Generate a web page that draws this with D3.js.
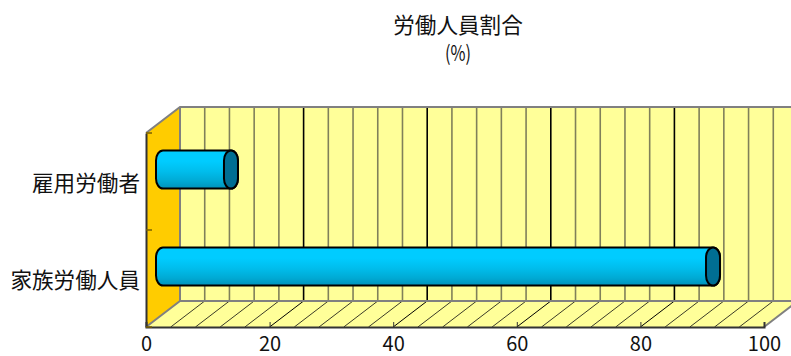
<!DOCTYPE html>
<html>
<head>
<meta charset="utf-8">
<script src="https://cdn.jsdelivr.net/npm/d3@7"></script>
<style>
html,body{margin:0;padding:0;background:#fff;overflow:hidden}
text{font-family:"Noto Sans CJK JP",sans-serif;fill:#111}
</style>
</head>
<body>
<script>
// Share of workers by type, drawn as a pseudo-3D horizontal cylinder chart
const categories = ["雇用労働者", "家族労働人員"];
const shares = [11, 89];
const tickValues = [0, 20, 40, 60, 80, 100];
const gridValues = d3.range(0, 129, 4);
const titleText = "労働人員割合";
const unitText = "(%)";

const W = 791, H = 356;
const depthX = 34, depthY = 26;
const x = d3.scaleLinear().domain([0, 100]).range([146, 764]);
const y = d3.scaleBand().domain(categories).range([133, 327]);
const top3d = y.range()[0], bottom3d = y.range()[1];

const svg = d3.select("body").append("svg")
  .attr("width", W).attr("height", H).style("display", "block");

const grad = svg.append("defs").append("linearGradient")
  .attr("id", "cyl").attr("x1", 0).attr("y1", 0).attr("x2", 0).attr("y2", 1);
[[0, "#00ccff"], [0.28, "#00ccff"], [0.55, "#00bdec"], [0.8, "#00aad4"], [1, "#0092ba"]]
  .forEach(([o, c]) => grad.append("stop").attr("offset", o).attr("stop-color", c));

const poly = pts => d3.line()(pts) + "Z";
const x0 = x(0), xEnd = x(100);

// back wall, clipped by the page edge
svg.append("rect")
  .attr("x", x0 + depthX).attr("y", top3d - depthY)
  .attr("width", xEnd - x0).attr("height", bottom3d - top3d)
  .attr("fill", "#ffff99");

// floor
svg.append("path")
  .attr("d", poly([[x0, bottom3d], [xEnd, bottom3d], [xEnd + depthX, bottom3d - depthY], [x0 + depthX, bottom3d - depthY]]))
  .attr("fill", "#ffff99");

// left wall
svg.append("path")
  .attr("d", poly([[x0, top3d], [x0 + depthX, top3d - depthY], [x0 + depthX, bottom3d - depthY], [x0, bottom3d]]))
  .attr("fill", "#ffcc00");

// wall and floor grid lines
const isMajor = d => d % 20 === 0;
svg.append("g").selectAll("line").data(gridValues.filter(d => d > 0)).join("line")
  .attr("x1", d => x(d) + depthX).attr("x2", d => x(d) + depthX)
  .attr("y1", top3d - depthY).attr("y2", bottom3d - depthY)
  .attr("stroke", d => isMajor(d) ? "#000" : "#80805a")
  .attr("stroke-width", 1.6);

svg.append("g").selectAll("line").data(gridValues.filter(d => d > 0 && d < 100)).join("line")
  .attr("x1", d => x(d)).attr("y1", bottom3d)
  .attr("x2", d => x(d) + depthX).attr("y2", bottom3d - depthY)
  .attr("stroke", d => isMajor(d) ? "#000" : "#3c3c28")
  .attr("stroke-width", 1);

// grey frame of the 3D box
const frame = svg.append("g").attr("fill", "none").attr("stroke", "#808080").attr("stroke-width", 2);
frame.append("path").attr("d", d3.line()([[x0, top3d], [x0 + depthX, top3d - depthY], [W + 10, top3d - depthY]]));
frame.append("path").attr("d", d3.line()([[x0, bottom3d], [x0 + depthX, bottom3d - depthY], [W + 10, bottom3d - depthY]]));
frame.append("path").attr("d", d3.line()([[x0 + depthX, top3d - depthY], [x0 + depthX, bottom3d - depthY]]));
frame.append("path").attr("d", d3.line()([[xEnd, bottom3d], [xEnd + depthX, bottom3d - depthY]]));

// cylinders sit halfway into the depth of the box
const barDx = depthX / 2, barDy = depthY / 2 - 1;
const barHeight = 38, capRx = 7, capRy = 10;
const rows = categories.map((c, i) => ({ c, v: shares[i] }));
const bars = svg.append("g").selectAll("g").data(rows).join("g")
  .attr("transform", d => `translate(${x0 + barDx},${y(d.c) + y.bandwidth() / 2 - barDy})`);

bars.append("rect")
  .attr("x", -capRx).attr("y", -barHeight / 2)
  .attr("width", d => x(d.v) - x0 + capRx * 2).attr("height", barHeight)
  .attr("rx", capRx).attr("ry", capRy)
  .attr("fill", "url(#cyl)").attr("stroke", "#000").attr("stroke-width", 2);

bars.append("rect")
  .attr("x", d => x(d.v) - x0 - capRx).attr("y", -barHeight / 2)
  .attr("width", capRx * 2).attr("height", barHeight)
  .attr("rx", capRx).attr("ry", capRy)
  .attr("fill", "#006e93").attr("stroke", "#000").attr("stroke-width", 2);

// value axis along the front edge
const xAxis = svg.append("g").attr("transform", `translate(0,${bottom3d})`)
  .call(d3.axisBottom(x).tickValues(tickValues).tickSize(-5).tickPadding(10).tickFormat(d3.format("d")));
xAxis.select(".domain").attr("stroke", "#333").attr("stroke-width", 2);
xAxis.selectAll(".tick line").attr("stroke", "#333");
xAxis.selectAll("text").attr("font-size", 20).attr("fill", "#111").style("font-family", '"Noto Sans CJK JP"');

// category axis on the front edge of the left wall
const yAxis = svg.append("g").attr("transform", `translate(${x0},0)`)
  .call(d3.axisLeft(y).tickSize(0).tickPadding(6));
yAxis.select(".domain").attr("stroke", "#333").attr("stroke-width", 2);
yAxis.selectAll("text").attr("font-size", 21.6).attr("fill", "#111")
  .attr("dy", "0.42em")
  .style("font-family", '"Noto Sans CJK JP"');
svg.append("g").selectAll("line").data(y.domain().concat("end")).join("line")
  .attr("x1", x0).attr("x2", x0 + 6)
  .attr("y1", d => d === "end" ? bottom3d : y(d))
  .attr("y2", d => d === "end" ? bottom3d : y(d))
  .attr("stroke", "#7a6000").attr("stroke-width", 1.5);

// titles
svg.append("text").attr("x", 458).attr("y", 33).attr("text-anchor", "middle")
  .attr("font-size", 21.6).text(titleText);
svg.append("text").attr("x", 458).attr("y", 61).attr("text-anchor", "middle")
  .attr("font-size", 21).attr("textLength", 26).attr("lengthAdjust", "spacingAndGlyphs").text(unitText);
</script>
</body>
</html>
